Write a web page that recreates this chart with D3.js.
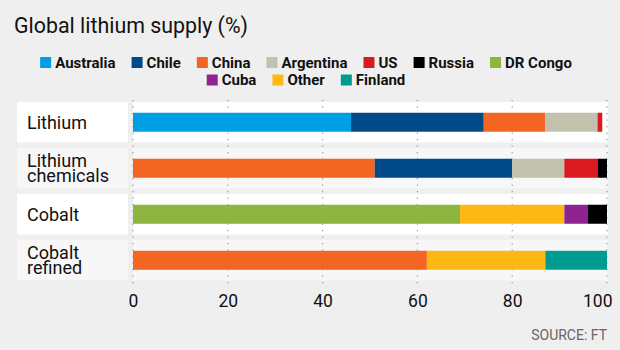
<!DOCTYPE html>
<html>
<head>
<meta charset="utf-8">
<script src="https://cdn.jsdelivr.net/npm/d3@7"></script>
<style>
  body { margin: 0; background: #efefef; }
  svg { display: block; font-family: Roboto, "Open Sans", sans-serif; }
</style>
</head>
<body>
<svg id="drawing_region"></svg>
<script>
// rows of the chart, top to bottom
const rows = [ "Lithium", "Lithium chemicals", "Cobalt", "Cobalt refined" ];

// share of supply per country (%), in the order drawn in each bar
const lithium = [ [ "Australia", 46 ], [ "Chile", 28 ], [ "China", 13 ], [ "Argentina", 11 ], [ "US", 1 ] ];
const lithiumChemicals = [ [ "China", 51 ], [ "Chile", 29 ], [ "Argentina", 11 ], [ "US", 7 ], [ "Russia", 2 ] ];
const cobalt = [ [ "DR Congo", 69 ], [ "Other", 22 ], [ "Cuba", 5 ], [ "Russia", 4 ] ];
const cobaltRefined = [ [ "China", 62 ], [ "Other", 25 ], [ "Finland", 13 ] ];

const series = [ "Australia", "Chile", "China", "Argentina", "US", "Russia", "DR Congo", "Cuba", "Other", "Finland" ];
const colors = [ "#009fe3", "#004b87", "#f26522", "#c2c1ad", "#da1a21", "#000000", "#8db53f", "#8e248f", "#fdb813", "#009b91" ];
const legendRows = [ series.slice( 0, 7 ), series.slice( 7 ) ];

const ticks = [ 0, 20, 40, 60, 80, 100 ];

const title = "Global lithium supply (%)";
const source = "SOURCE: FT";

const width = 620, height = 350;

const svg = d3.select( '#drawing_region' )
    .attr( 'width', width )
    .attr( 'height', height );

svg.append( 'rect' )
    .attr( 'width', width )
    .attr( 'height', height )
    .attr( 'fill', '#efefef' );

const color = d3.scaleOrdinal( series, colors );

const xscale = d3.scaleLinear()
    .domain( [ 0, 100 ] )
    .range( [ 133, 607 ] );

const yscale = d3.scaleBand()
    .domain( rows )
    .range( [ 102, 280.5 ] )
    .paddingInner( 0.12 );

// title
svg.append( 'text' )
    .attr( 'x', 14 )
    .attr( 'y', 33 )
    .attr( 'font-size', 21.5 )
    .attr( 'fill', '#111' )
    .attr( 'textLength', 234 )
    .attr( 'lengthAdjust', 'spacingAndGlyphs' )
    .text( title );

// legend, two centred rows
legendRows.forEach( ( items, r ) => {
    const g = svg.append( 'g' );
    let x = 0;
    items.forEach( name => {
        const item = g.append( 'g' ).attr( 'transform', `translate(${x},0)` );
        item.append( 'rect' )
            .attr( 'y', -10.5 )
            .attr( 'width', 11 )
            .attr( 'height', 11 )
            .attr( 'fill', color( name ) );
        const t = item.append( 'text' )
            .attr( 'x', 15 )
            .attr( 'font-size', 15 )
            .attr( 'font-weight', 'bold' )
            .attr( 'fill', '#111' )
            .text( name );
        x += 15 + t.node().getComputedTextLength() + 16;
    } );
    const w = x - 16;
    g.attr( 'transform', `translate(${306 - w / 2},${67.5 + r * 17.5})` );
} );

// row backgrounds
const row = svg.selectAll( '.row' )
    .data( rows )
    .join( 'g' )
    .attr( 'class', 'row' );

row.append( 'rect' )
    .attr( 'x', 17 )
    .attr( 'y', d => yscale( d ) )
    .attr( 'width', 111 )
    .attr( 'height', yscale.bandwidth() )
    .attr( 'fill', ( d, i ) => i % 2 ? '#f7f7f7' : '#ffffff' );

row.append( 'rect' )
    .attr( 'x', xscale( 0 ) )
    .attr( 'y', d => yscale( d ) )
    .attr( 'width', xscale( 100 ) - xscale( 0 ) + 1 )
    .attr( 'height', yscale.bandwidth() )
    .attr( 'fill', ( d, i ) => i % 2 ? '#f7f7f7' : '#ffffff' );

// row labels
row.each( function( d ) {
    const words = d.split( ' ' );
    const lines = words.length > 1 ? [ words[0], words.slice( 1 ).join( ' ' ) ] : [ d ];
    const cy = yscale( d ) + yscale.bandwidth() / 2;
    const t = d3.select( this ).append( 'text' )
        .attr( 'font-size', 18 )
        .attr( 'fill', '#111' );
    lines.forEach( ( line, i ) => {
        t.append( 'tspan' )
            .attr( 'x', 27 )
            .attr( 'y', lines.length > 1 ? cy - 1.5 + i * 15 : cy + 6.5 )
            .text( line );
    } );
} );

// dotted grid lines
svg.append( 'g' )
    .selectAll( 'line' )
    .data( ticks )
    .join( 'line' )
    .attr( 'x1', d => xscale( d ) )
    .attr( 'x2', d => xscale( d ) )
    .attr( 'y1', 100 )
    .attr( 'y2', 287 )
    .attr( 'stroke', '#999' )
    .attr( 'stroke-width', 1.2 )
    .attr( 'stroke-dasharray', '1.2,5.3' );

// stacked bars
const stacks = [ lithium, lithiumChemicals, cobalt, cobaltRefined ];
const barHeight = 19;

stacks.forEach( ( parts, i ) => {
    let start = 0;
    const segs = parts.map( ( [ name, value ] ) => {
        const s = { name, x0: start, x1: start + value };
        start += value;
        return s;
    } );
    svg.append( 'g' )
        .selectAll( 'rect' )
        .data( segs )
        .join( 'rect' )
        .attr( 'x', d => xscale( d.x0 ) )
        .attr( 'y', yscale( rows[i] ) + ( yscale.bandwidth() - barHeight ) / 2 )
        .attr( 'width', d => xscale( d.x1 ) - xscale( d.x0 ) )
        .attr( 'height', barHeight )
        .attr( 'fill', d => color( d.name ) );
} );

// x axis
const xaxis = d3.axisBottom( xscale )
    .tickValues( ticks )
    .tickSize( 0 )
    .tickPadding( 0 );

const xaxis_group = svg.append( 'g' )
    .attr( 'transform', 'translate(0, 307)' )
    .call( xaxis );

xaxis_group.select( '.domain' ).remove();
xaxis_group.selectAll( 'text' )
    .attr( 'dy', 0 )
    .attr( 'font-size', 17.5 )
    .attr( 'font-family', 'Roboto, sans-serif' )
    .attr( 'fill', '#111' )
    .attr( 'text-anchor', d => d === 100 ? 'end' : 'middle' )
    .attr( 'x', d => d === 100 ? 5 : 0 );

// source
svg.append( 'text' )
    .attr( 'x', 607 )
    .attr( 'y', 340 )
    .attr( 'text-anchor', 'end' )
    .attr( 'font-size', 14 )
    .attr( 'fill', '#666' )
    .text( source );
</script>
</body>
</html>
